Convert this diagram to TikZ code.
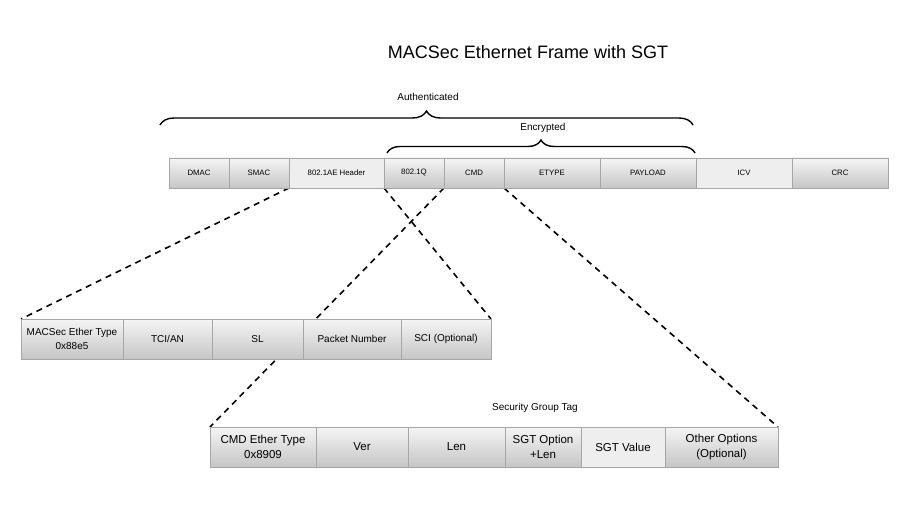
\documentclass[tikz,border=0pt]{standalone}
\usepackage{fontspec}
\setmainfont{Liberation Sans}
\usetikzlibrary{positioning,backgrounds,decorations.pathreplacing}

\begin{document}
\begin{tikzpicture}[x=1pt,
            y=-1pt,
            base/.style={draw=gray!70, line width=0.6pt, inner sep=0pt,
                         outer sep=0pt, align=center},
            field/.style={base, top color=gray!8, bottom color=gray!45},
            lite/.style={base, fill=gray!13},
            toprow/.style={minimum height=30, font=\fontsize{7.8}{9}\selectfont},
            midrow/.style={minimum height=40, font=\fontsize{10}{14}\selectfont},
            lowrow/.style={minimum height=40, font=\fontsize{11.5}{15.5}\selectfont},
            zoomline/.style={line width=1.6pt, dash pattern=on 6pt off 5pt},
            brace/.style={line width=1.4pt, decorate,
                          decoration={brace, amplitude=#1}},
            label/.style={font=\fontsize{10}{12}\selectfont}]

        \useasboundingbox (0,0) rectangle (923,513);

        \node[font=\fontsize{18}{21}\selectfont] (title) at (528,52)
            {MACSec Ethernet Frame with SGT};

        % ethernet frame
        \node[field,toprow,minimum width=60,anchor=north west] (dmac) at (169,158) {DMAC};
        \node[field,toprow,minimum width=60] (smac)    [right=0pt of dmac]  {SMAC};
        \node[lite,toprow,minimum width=95]  (hdr)     [right=0pt of smac]  {802.1AE Header};
        \node[field,toprow,minimum width=60] (dotq)    [right=0pt of hdr]   {802.1Q};
        \node[field,toprow,minimum width=60] (cmd)     [right=0pt of dotq]  {CMD};
        \node[field,toprow,minimum width=96] (etype)   [right=0pt of cmd]   {ETYPE};
        \node[field,toprow,minimum width=96] (payload) [right=0pt of etype] {PAYLOAD};
        \node[lite,toprow,minimum width=96]  (icv)     [right=0pt of payload] {ICV};
        \node[field,toprow,minimum width=96] (crc)     [right=0pt of icv]   {CRC};

        % braces
        \coordinate (authL) at (160,125);
        \coordinate (authR) at (693,125);
        \coordinate (encL)  at (387,153);
        \coordinate (encR)  at (695,153);
        \draw[brace=14pt] (authL) -- (authR);
        \draw[brace=13pt] (encL) -- (encR);
        \node[label] (auth) at (428,97)  {Authenticated};
        \node[label] (enc)  at (543,128) {Encrypted};

        % 802.1AE header
        \node[field,midrow,minimum width=102,anchor=north west] (ethertype) at (21,319)
            {MACSec Ether Type\\0x88e5};
        \node[field,midrow,minimum width=89] (tci) [right=0pt of ethertype] {TCI/AN};
        \node[field,midrow,minimum width=91] (sl)  [right=0pt of tci] {SL};
        \node[field,midrow,minimum width=98] (pn)  [right=0pt of sl]  {Packet Number};
        \node[field,midrow,minimum width=90] (sci) [right=0pt of pn]  {SCI (Optional)};

        % CMD
        \node[field,lowrow,minimum width=106,anchor=north west] (cmdtype) at (210,427)
            {CMD Ether Type\\0x8909};
        \node[field,lowrow,minimum width=92]  (ver)    [right=0pt of cmdtype] {Ver};
        \node[field,lowrow,minimum width=97]  (len)    [right=0pt of ver]     {Len};
        \node[field,lowrow,minimum width=76]  (sgtopt) [right=0pt of len]     {SGT Option\\+Len};
        \node[lite,lowrow,minimum width=84]   (sgtval) [right=0pt of sgtopt]  {SGT Value};
        \node[field,lowrow,minimum width=113] (other)  [right=0pt of sgtval]  {Other Options\\(Optional)};
        \node[label] (sgt) at (535,408) {Security Group Tag};

        \begin{scope}[on background layer]
            \draw[zoomline] (hdr.south west) -- (ethertype.north west);
            \draw[zoomline] (hdr.south east) -- (sci.north east);
            \draw[zoomline] (cmd.south west) -- (cmdtype.north west);
            \draw[zoomline] (cmd.south east) -- (other.north east);
        \end{scope}

    \end{tikzpicture}
\end{document}
